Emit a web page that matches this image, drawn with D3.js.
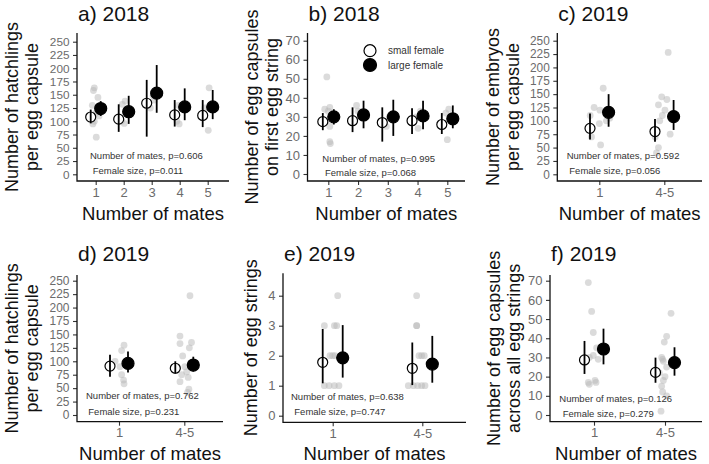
<!DOCTYPE html>
<html>
<head>
<meta charset="utf-8">
<script src="https://cdn.jsdelivr.net/npm/d3@7"></script>
<style>
body { margin: 0; background: #fff; }
svg text { font-family: "Liberation Sans", Arial, sans-serif; }
</style>
</head>
<body>
<svg id="chart" width="709" height="464"></svg>
<script>
// categories and tick labels
var matesFive = ["1", "2", "3", "4", "5"];
var matesTwo = ["1", "4-5"];
var ticks250 = [0, 25, 50, 75, 100, 125, 150, 175, 200, 225, 250];
var ticks70 = [0, 10, 20, 30, 40, 50, 60, 70];
var ticks4 = [0, 1, 2, 3, 4];

// a) hatchlings per egg capsule 2018
var aSmall = [108, 104, 134, 112, 111];
var aSmallLo = [96, 80, 71, 90, 89];
var aSmallHi = [122, 132, 178, 140, 140];
var aLarge = [124, 118, 153, 127, 127];
var aLargeLo = [110, 95, 116, 102, 104];
var aLargeHi = [138, 148, 206, 162, 159];
// raw points: [category index, jitter, value]
var aRaw = [[0, -0.05, 163], [0, -0.08, 158], [0, 0.08, 145], [0, -0.12, 130], [0, 0.1, 125], [0, 0, 115],
    [0, -0.05, 100], [0, -0.1, 95], [0, 0.12, 110], [0, 0.02, 70],
    [1, 0.05, 138], [1, -0.05, 132], [1, 0.1, 120], [1, -0.08, 100], [1, 0.02, 96],
    [2, 0.05, 148], [2, 0.1, 140], [2, -0.05, 125],
    [3, -0.05, 130], [3, -0.1, 100], [3, -0.02, 95],
    [4, 0.05, 163], [4, -0.1, 125], [4, 0.02, 83]];

// b) egg capsules on first egg string 2018
var bSmall = [27.5, 28, 27, 28, 26];
var bSmallLo = [23, 22, 17, 21, 21];
var bSmallHi = [32, 35, 35, 34.5, 32];
var bLarge = [30, 31, 30, 30.5, 29];
var bLargeLo = [26, 24, 20, 23.5, 24];
var bLargeHi = [34, 38.5, 39, 38.5, 36];
var bRaw = [[0, -0.05, 51], [0, 0.05, 35], [0, -0.12, 34], [0, 0.1, 30], [0, -0.05, 28], [0, 0.05, 25],
    [0, 0.05, 17], [0, 0.07, 16], [0, 0, 33],
    [1, -0.05, 36], [1, 0.1, 30], [1, 0, 33],
    [2, 0.05, 30], [2, -0.05, 25],
    [3, 0.02, 24], [3, -0.05, 30], [3, 0.1, 33],
    [4, 0.05, 34], [4, -0.05, 32], [4, 0, 18], [4, 0.1, 30]];

// c) embryos per egg capsule 2019
var cSmall = [86, 80];
var cSmallLo = [65, 61];
var cSmallHi = [114, 103.5];
var cLarge = [116, 108];
var cLargeLo = [89, 83];
var cLargeHi = [150, 139];
var cRaw = [[0, 0.06, 161], [0, -0.08, 125], [0, 0.01, 120], [0, -0.14, 110], [0, 0.11, 100], [0, 0, 95],
    [0, -0.12, 70], [0, 0.02, 55], [0, 0.16, 105],
    [1, 0.06, 228], [1, -0.04, 145], [1, 0.04, 140], [1, -0.09, 130], [1, 0.01, 120], [1, -0.07, 100],
    [1, 0.09, 75], [1, -0.14, 70], [1, -0.09, 50], [1, -0.12, 40], [1, -0.03, 110]];

// d) hatchlings per egg capsule 2019
var dSmall = [91, 87];
var dSmallLo = [71, 77];
var dSmallHi = [112, 100];
var dLarge = [96, 93];
var dLargeLo = [79, 81];
var dLargeHi = [118, 108.5];
var dRaw = [[0, 0.077, 130], [0, 0.04, 120], [0, -0.06, 100], [0, 0.015, 90], [0, 0.04, 75], [0, 0.07, 65], [0, 0.077, 58],
    [1, 0.087, 222], [1, -0.066, 147], [1, 0.11, 135], [1, -0.066, 133], [1, 0.077, 125], [1, -0.025, 110],
    [1, 0.01, 90], [1, 0.036, 80], [1, -0.04, 75], [1, 0.06, 70], [1, -0.066, 62], [1, 0.07, 48], [1, 0.05, 42]];

// e) number of egg strings 2019
var eSmall = [1.78, 1.58];
var eSmallLo = [1.08, 1.02];
var eSmallHi = [2.89, 2.44];
var eLarge = [1.93, 1.72];
var eLargeLo = [1.27, 1.1];
var eLargeHi = [3.02, 2.66];
var eRaw = [[0, 0.056, 4], [0, -0.093, 3], [0, 0.019, 3], [0, 0.045, 3], [0, -0.03, 2], [0, 0, 2], [0, 0.026, 2],
    [0, -0.093, 1], [0, -0.04, 1], [0, 0.019, 1], [0, 0.07, 1],
    [1, -0.063, 4], [1, -0.063, 3], [1, -0.063, 3], [1, -0.037, 2], [1, -0.007, 2], [1, 0.022, 2],
    [1, -0.156, 1], [1, -0.1, 1], [1, -0.052, 1], [1, -0.007, 1], [1, 0.03, 1]];

// f) egg capsules across all egg strings 2019
var fSmall = [28.7, 22.2];
var fSmallLo = [21.4, 16.8];
var fSmallHi = [38.6, 29.9];
var fLarge = [34.4, 27.3];
var fLargeLo = [26.4, 20.5];
var fLargeHi = [45, 35.3];
var fRaw = [[0, -0.08, 69], [0, -0.033, 54], [0, -0.01, 43], [0, 0.037, 35], [0, -0.01, 31], [0, -0.066, 30],
    [0, 0.06, 29], [0, 0.014, 18], [0, -0.08, 17], [0, -0.066, 16], [0, 0.028, 17],
    [1, 0.085, 53], [1, 0.023, 41], [1, -0.01, 38], [1, -0.047, 30], [1, -0.033, 29], [1, -0.023, 28],
    [1, 0.023, 25], [1, -0.08, 22], [1, 0, 20], [1, -0.023, 18], [1, -0.047, 15], [1, -0.033, 12],
    [1, 0.023, 10], [1, -0.056, 2]];

var svg = d3.select("#chart");

var panels = [
    {title: "a) 2018", ylab: ["Number of hatchlings", "per egg capsule"], cats: matesFive, ticks: ticks250,
     small: [aSmall, aSmallLo, aSmallHi], large: [aLarge, aLargeLo, aLargeHi], raw: aRaw,
     p: ["Number of mates, p=0.606", "Female size, p=0.011"],
     ax: 77, ay: 181, top: 33, right: 229, y0: 174.3, y1: 41.7, x0: 95.7, x1: 207.7, dodge: 5,
     labX: [17.5, 37.5], titleY: 20.5, xlabY: 220, ann: [90, 159, 92.7, 174]},
    {title: "b) 2018", ylab: ["Number of egg capsules", "on first egg string"], cats: matesFive, ticks: ticks70,
     small: [bSmall, bSmallLo, bSmallHi], large: [bLarge, bLargeLo, bLargeHi], raw: bRaw,
     p: ["Number of mates, p=0.995", "Female size, p=0.068"],
     ax: 307.5, ay: 181, top: 33, right: 465, y0: 174, y1: 40.7, x0: 328.3, x1: 447.3, dodge: 5.5,
     labX: [258, 278], titleY: 20.5, xlabY: 220, ann: [322.3, 161.7, 325, 175.7], legend: true},
    {title: "c) 2019", ylab: ["Number of embryos", "per egg capsule"], cats: matesTwo, ticks: ticks250,
     small: [cSmall, cSmallLo, cSmallHi], large: [cLarge, cLargeLo, cLargeHi], raw: cRaw,
     p: ["Number of mates, p=0.592", "Female size, p=0.056"],
     ax: 557.3, ay: 181, top: 33, right: 702, y0: 174.3, y1: 40.7, x0: 599.3, x1: 664.3, dodge: 9.3,
     labX: [498.5, 518.5], titleY: 20.5, xlabY: 220, ann: [566.7, 159.3, 569.3, 174]},
    {title: "d) 2019", ylab: ["Number of hatchlings", "per egg capsule"], cats: matesTwo, ticks: ticks250,
     small: [dSmall, dSmallLo, dSmallHi], large: [dLarge, dLargeLo, dLargeHi], raw: dRaw,
     p: ["Number of mates, p=0.762", "Female size, p=0.231"],
     ax: 77, ay: 421.7, top: 275, right: 223, y0: 415, y1: 280.7, x0: 119, x1: 184.3, dodge: 9,
     labX: [17.5, 37.5], titleY: 260.5, xlabY: 460, ann: [86, 399.3, 88.3, 415]},
    {title: "e) 2019", ylab: ["Number of egg strings"], cats: matesTwo, ticks: ticks4,
     small: [eSmall, eSmallLo, eSmallHi], large: [eLarge, eLargeLo, eLargeHi], raw: eRaw,
     p: ["Number of mates, p=0.638", "Female size, p=0.747"],
     ax: 283, ay: 422.3, top: 273.3, right: 466, y0: 415.7, y1: 295.7, x0: 332.7, x1: 422.3, dodge: 10,
     labX: [257], titleY: 260.5, xlabY: 460, ann: [291, 400, 294.3, 415]},
    {title: "f) 2019", ylab: ["Number of egg capsules", "across all egg strings"], cats: matesTwo, ticks: ticks70,
     small: [fSmall, fSmallLo, fSmallHi], large: [fLarge, fLargeLo, fLargeHi], raw: fRaw,
     p: ["Number of mates, p=0.126", "Female size, p=0.279"],
     ax: 550, ay: 421.7, top: 275, right: 702, y0: 415, y1: 280.7, x0: 594, x1: 665, dodge: 9.5,
     labX: [500, 520], titleY: 260.5, xlabY: 460, ann: [559.3, 401.7, 562.7, 416.7]}
];

var styleTicks = function(sel, size) {
    sel.select(".domain").remove();
    sel.selectAll(".tick line").attr("stroke", "#333").attr("stroke-width", 1.1);
    sel.selectAll(".tick text").attr("fill", "#6b6b6b").attr("font-size", size + "px")
        .style("font-family", "'Liberation Sans', Arial, sans-serif");
};

var drawPanel = function(cfg) {
    var g = svg.append("g");
    var yMax = cfg.ticks[cfg.ticks.length - 1];

    var yScale = d3.scaleLinear().domain([0, yMax]).range([cfg.y0, cfg.y1]);
    var xScale = d3.scalePoint().domain(cfg.cats).range([cfg.x0, cfg.x1]);
    var step = (cfg.x1 - cfg.x0) / (cfg.cats.length - 1);

    // tick labels are packed tight on the 0-250 axes, keep their boxes from touching
    var gap = Math.abs(yScale(cfg.ticks[1]) - yScale(cfg.ticks[0]));
    var tickSize = Math.min(13, gap / 1.125);

    // y axis
    var yAxis = d3.axisLeft(yScale).tickValues(cfg.ticks).tickFormat(d3.format("d"))
        .tickSize(4).tickPadding(3.5);
    g.append("g")
        .attr("transform", "translate(" + cfg.ax + ",0)")
        .call(yAxis)
        .call(styleTicks, tickSize);

    // x axis
    var xAxis = d3.axisBottom(xScale).tickSize(4).tickPadding(2.5);
    g.append("g")
        .attr("transform", "translate(0," + cfg.ay + ")")
        .call(xAxis)
        .call(styleTicks, 13);

    // axis lines
    g.append("path")
        .attr("d", "M" + cfg.ax + "," + cfg.top + "V" + cfg.ay + "H" + cfg.right)
        .attr("fill", "none")
        .attr("stroke", "#111")
        .attr("stroke-width", 1.3);

    // raw data points
    g.selectAll(".raw").data(cfg.raw).enter().append("circle")
        .attr("class", "raw")
        .attr("cx", function(d) { return xScale(cfg.cats[d[0]]) + d[1] * step; })
        .attr("cy", function(d) { return yScale(d[2]); })
        .attr("r", 3.4)
        .attr("fill", "#b8b8b8")
        .attr("fill-opacity", 0.5);

    var groups = [
        {vals: cfg.small, off: -cfg.dodge, fill: "#fff", r: 5},
        {vals: cfg.large, off: cfg.dodge, fill: "#000", r: 6}
    ];

    groups.forEach(function(grp) {
        var idx = d3.range(cfg.cats.length);
        g.selectAll(null).data(idx).enter().append("circle")
            .attr("cx", function(i) { return xScale(cfg.cats[i]) + grp.off; })
            .attr("cy", function(i) { return yScale(grp.vals[0][i]); })
            .attr("r", grp.r)
            .attr("fill", grp.fill)
            .attr("stroke", "#000")
            .attr("stroke-width", 1.2);
        g.selectAll(null).data(idx).enter().append("line")
            .attr("x1", function(i) { return xScale(cfg.cats[i]) + grp.off; })
            .attr("x2", function(i) { return xScale(cfg.cats[i]) + grp.off; })
            .attr("y1", function(i) { return yScale(grp.vals[1][i]); })
            .attr("y2", function(i) { return yScale(grp.vals[2][i]); })
            .attr("stroke", "#000")
            .attr("stroke-width", 1.8);
    });

    // title
    g.append("text")
        .attr("x", cfg.ax + 1)
        .attr("y", cfg.titleY)
        .attr("font-size", "21px")
        .attr("fill", "#111")
        .text(cfg.title);

    // axis titles
    g.append("text")
        .attr("x", (cfg.ax + cfg.right) / 2)
        .attr("y", cfg.xlabY)
        .attr("text-anchor", "middle")
        .attr("font-size", "18.5px")
        .attr("fill", "#111")
        .text("Number of mates");

    var midY = (cfg.top + cfg.ay) / 2;
    cfg.ylab.forEach(function(line, i) {
        g.append("text")
            .attr("transform", "translate(" + cfg.labX[i] + "," + midY + ") rotate(-90)")
            .attr("text-anchor", "middle")
            .attr("font-size", "18px")
            .attr("fill", "#111")
            .text(line);
    });

    // p-value notes
    g.append("text").attr("x", cfg.ann[0]).attr("y", cfg.ann[1])
        .attr("font-size", "9.5px").attr("fill", "#333").text(cfg.p[0]);
    g.append("text").attr("x", cfg.ann[2]).attr("y", cfg.ann[3])
        .attr("font-size", "9.5px").attr("fill", "#333").text(cfg.p[1]);

    if (cfg.legend) {
        var leg = [["small female", "#fff", 6, 50.7], ["large female", "#000", 6.5, 65]];
        leg.forEach(function(l) {
            g.append("circle").attr("cx", 370).attr("cy", l[3]).attr("r", l[2])
                .attr("fill", l[1]).attr("stroke", "#000").attr("stroke-width", 1.2);
            g.append("text").attr("x", 388).attr("y", l[3] + 3.5)
                .attr("font-size", "10px").attr("fill", "#333").text(l[0]);
        });
    }
};

panels.forEach(drawPanel);
</script>
</body>
</html>
